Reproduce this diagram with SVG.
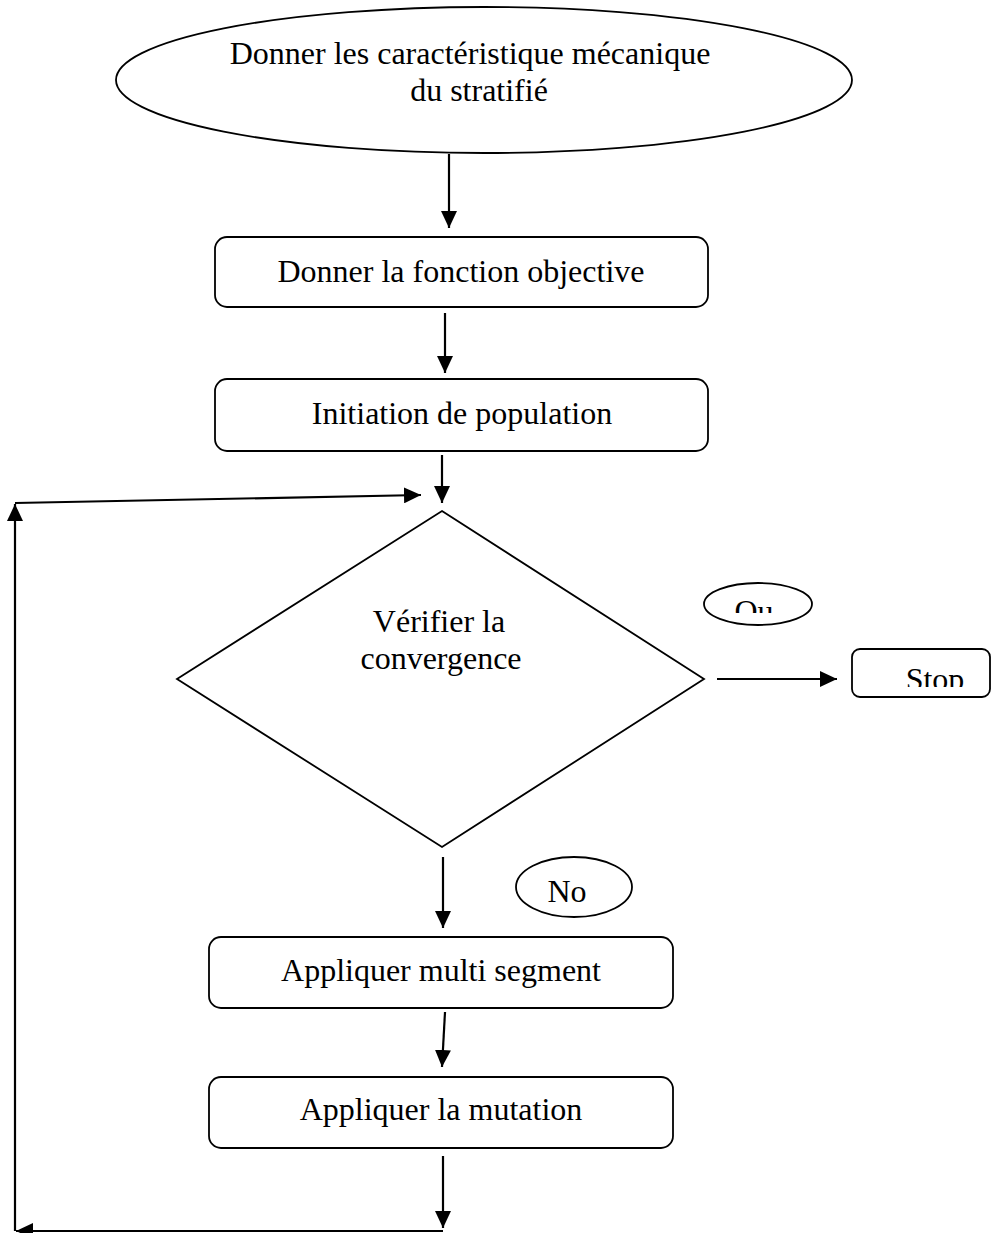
<svg xmlns="http://www.w3.org/2000/svg" width="992" height="1233" viewBox="0 0 992 1233">
<style>
.shape{fill:#fff;stroke:#000;stroke-width:1.8}
.lbl{font-family:"Liberation Serif","Times New Roman",serif;font-size:32px;fill:#000;text-anchor:middle}
.conn{stroke:#000;stroke-width:2.2;fill:none}
</style>
<defs>
<marker id="ah" markerUnits="userSpaceOnUse" markerWidth="18" markerHeight="16" refX="17" refY="8" orient="auto">
<path d="M0,0 L17,8 L0,16 Z" fill="#000"/>
</marker>
<clipPath id="clipOu"><rect x="700" y="580" width="120" height="33"/></clipPath>
<clipPath id="clipStop"><rect x="852" y="649" width="140" height="38"/></clipPath>
</defs>
<rect width="992" height="1233" fill="#fff"/>
<g id="connectors">
<line class="conn" x1="449" y1="154" x2="449" y2="228" marker-end="url(#ah)"/>
<line class="conn" x1="445" y1="313" x2="445" y2="373" marker-end="url(#ah)"/>
<line class="conn" x1="442" y1="455" x2="442" y2="503" marker-end="url(#ah)"/>
<line class="conn" x1="717" y1="679" x2="837" y2="679" marker-end="url(#ah)"/>
<line class="conn" x1="443" y1="857" x2="443" y2="928" marker-end="url(#ah)"/>
<line class="conn" x1="445" y1="1012" x2="442" y2="1067" marker-end="url(#ah)"/>
<line class="conn" x1="443" y1="1156" x2="443" y2="1228" marker-end="url(#ah)"/>
<line class="conn" x1="443" y1="1231" x2="16" y2="1231" marker-end="url(#ah)"/>
<line class="conn" x1="15" y1="1231" x2="15" y2="504" marker-end="url(#ah)"/>
<line class="conn" x1="15" y1="503" x2="421" y2="495" marker-end="url(#ah)"/>
</g>
<g id="n-start">
<ellipse class="shape" cx="484" cy="80" rx="368" ry="73"/>
<text class="lbl" x="470" y="64">Donner les caractéristique mécanique</text>
<text class="lbl" x="479" y="101">du stratifié</text>
</g>
<g id="n-objective">
<rect class="shape" x="215" y="237" width="493" height="70" rx="12"/>
<text class="lbl" x="461" y="282">Donner la fonction objective</text>
</g>
<g id="n-init">
<rect class="shape" x="215" y="379" width="493" height="72" rx="12"/>
<text class="lbl" x="462" y="424">Initiation de population</text>
</g>
<g id="n-check">
<polygon class="shape" points="442,511 704,679 442,847 177,679"/>
<text class="lbl" x="439" y="632">Vérifier la</text>
<text class="lbl" x="441" y="669">convergence</text>
</g>
<g id="n-ou">
<ellipse class="shape" cx="758" cy="604" rx="54" ry="21"/>
<text class="lbl" x="754" y="622" clip-path="url(#clipOu)">Ou</text>
</g>
<g id="n-stop">
<rect class="shape" x="852" y="649" width="138" height="48" rx="8"/>
<text class="lbl" x="935" y="690" clip-path="url(#clipStop)">Stop</text>
</g>
<g id="n-no">
<ellipse class="shape" cx="574" cy="887" rx="58" ry="30"/>
<text class="lbl" x="567" y="902">No</text>
</g>
<g id="n-multi">
<rect class="shape" x="209" y="937" width="464" height="71" rx="12"/>
<text class="lbl" x="441" y="981">Appliquer multi segment</text>
</g>
<g id="n-mutation">
<rect class="shape" x="209" y="1077" width="464" height="71" rx="12"/>
<text class="lbl" x="441" y="1120">Appliquer la mutation</text>
</g>
</svg>
